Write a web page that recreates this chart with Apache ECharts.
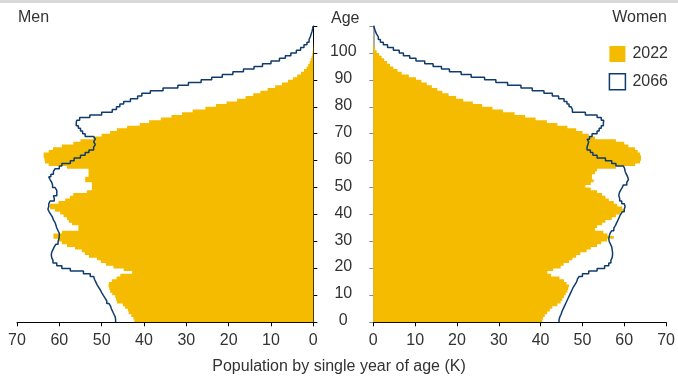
<!DOCTYPE html>
<html>
<head>
<meta charset="utf-8">
<script src="https://cdn.jsdelivr.net/npm/echarts@6/dist/echarts.min.js"></script>
<style>
html,body{margin:0;padding:0;background:#fff;}
#chart{width:678px;height:377px;}
</style>
</head>
<body>
<div id="chart"></div>
<script>
// Ages 0..109 (single years)
const ages = Array.from({length: 110}, (_, i) => String(i));
const ageTickLabels = ['0','10','20','30','40','50','60','70','80','90','100'];
const xTicks = [0,10,20,30,40,50,60,70];

// Men, population in thousands (2022 bars)
const men2022 = [
  42.3, 42.5, 43, 43.6, 43.8, 44.5, 45, 46.4, 46.6, 46.8,
  47.5, 48, 48.2, 48.4, 48.3, 47.6, 46.5, 45.6, 42.8, 44.8,
  47.2, 49, 50.2, 51.1, 53, 54, 54.7, 56.3, 58.2, 59.4,
  60.2, 61.4, 61.4, 59.4, 55.5, 55.5, 57, 57.8, 58.2, 59,
  59.8, 61, 62.2, 62.2, 60.2, 58.6, 57.5, 56.7, 53.5, 52.3,
  52.3, 52.3, 53.9, 53.9, 53.1, 53.1, 53.1, 58.2, 62.5, 63.4,
  63.5, 63.7, 63.7, 62.5, 61.5, 59.4, 56.7, 55, 52, 50,
  48, 46.4, 44, 41, 38.8, 36, 33.5, 31, 28.5, 25.5,
  23, 20.5, 18, 16, 14.2, 12.5, 10.8, 9, 7.4, 6,
  4.8, 3.8, 2.9, 2.2, 1.6, 1.2, 0.85, 0.6, 0.4, 0.25,
  0.15, 0.08, 0.04, 0.02, 0.01, 0, 0, 0, 0, 0
];
// Men 2066 projection (outline)
const men2066 = [
  46.7, 46.8, 47.1, 47.4, 47.7, 47.9, 48.3, 48.8, 49.2, 49.6,
  50, 50.3, 50.7, 51.1, 51.4, 51.7, 51.9, 52.7, 54.3, 57.4,
  59.4, 60.6, 61.5, 61.8, 61.9, 61.8, 61.5, 61.2, 60.8, 60.3,
  60.1, 60, 60, 60.3, 60.6, 60.8, 61, 61.4, 61.6, 62,
  62.4, 62.7, 62.5, 62.5, 62.2, 61.2, 61.4, 60.6, 60.6, 61,
  61.6, 61.8, 62.2, 62.5, 62, 61.4, 61, 60, 59.4, 57.4,
  56.5, 55, 53.9, 53, 51.9, 51.5, 51.9, 51.5, 51.9, 53.9,
  54.5, 55, 55.5, 56, 55.9, 55.2, 52.8, 50, 47.5, 46.5,
  45.7, 44.8, 43.2, 41.5, 40.5, 38.5, 35.5, 32, 29.5, 26.5,
  24, 21.5, 19, 16.5, 14, 12, 10, 8, 6.6, 5.3,
  4, 3, 2.2, 1.5, 1, 0.7, 0.5, 0.3, 0.15, 0.05
];
// Women 2022 bars
const women2022 = [
  40.4, 40.6, 41, 41.6, 42.2, 42.8, 44, 44.8, 45.2, 45.6,
  46, 46.4, 46.6, 46.8, 46.2, 45.6, 44.5, 42.5, 41.6, 43,
  44.8, 45.5, 46.8, 47.6, 48.5, 49.5, 51, 52, 53.5, 54.5,
  55.9, 57.5, 56, 55, 53, 53.5, 54.7, 55.5, 57, 58,
  59.1, 60, 59.5, 58.3, 57.5, 56.3, 55.5, 54.7, 53.5, 52,
  50.7, 52, 52.7, 52.3, 52.3, 53, 53.5, 58, 62.6, 63.8,
  64, 64, 63.8, 63.2, 62.6, 61, 60, 58, 53, 51.5,
  50, 48.5, 46.4, 44, 41.5, 38.8, 36.3, 33.8, 31, 28.5,
  26, 23.8, 21.5, 19.8, 18, 16.5, 15.3, 14, 12.8, 11.5,
  10.2, 8.5, 6.8, 5.8, 4.8, 4, 3.3, 2.6, 2, 1.4,
  0.8, 0.4, 0.2, 0.1, 0.05, 0, 0, 0, 0, 0
];
// Women 2066 projection (outline)
const women2066 = [
  44.4, 44.6, 44.9, 45.1, 45.4, 45.7, 46, 46.3, 46.6, 46.9,
  47.2, 47.5, 47.8, 48.2, 48.6, 48.8, 49.2, 50, 51.5, 53.5,
  55.3, 56.3, 56.8, 57.1, 57.2, 57.2, 57.1, 57, 56.7, 56.4,
  56.3, 56.4, 56.6, 57, 57.5, 57.9, 58.2, 58.5, 58.8, 59.1,
  59.5, 60, 60.2, 60, 59.4, 58.9, 58.7, 58.8, 59.1, 59.5,
  59.8, 60.6, 61, 60.8, 60.5, 60.2, 60.1, 59.8, 58, 57,
  55.5, 53.5, 52.5, 51.9, 51.1, 51.3, 51.5, 51.1, 51.7, 52.3,
  53.5, 54, 54.5, 55, 55.1, 54.5, 53.5, 50.7, 47.6, 47.3,
  46.8, 46.3, 45.6, 44.3, 42.8, 40.8, 38, 35.3, 32.1, 29.3,
  26.6, 23.4, 21, 18.2, 16.3, 14.3, 12.3, 10.2, 8.7, 7.2,
  6.2, 4.8, 3.4, 2.4, 1.7, 1.2, 0.8, 0.5, 0.3, 0.1
];

const seriesNames = ['2022', '2066'];
const titles = { men: 'Men', women: 'Women', age: 'Age', xName: 'Population by single year of age (K)' };

const FONT = "'Liberation Sans', Arial, sans-serif";
const FS = 16;
const YELLOW = '#f5bb00';
const NAVY = '#103c6c';
const TXT = '#333333';

// vertical step outline: each age a spans [a, a+1] on a value age axis
function stepOutline(vals) {
  const pts = [];
  vals.forEach((v, a) => { pts.push([v, a]); pts.push([v, a + 1]); });
  return pts;
}

const chart = echarts.init(document.getElementById('chart'), null, {renderer: 'canvas'});

const GRID_TOP = 26, GRID_H = 296.3;
const NO_SPLIT = { show: false };
const xAxisCommon = {
  type: 'value', min: 0, max: 70, interval: 10,
  axisLine: { show: true, lineStyle: { color: '#000', width: 1 } },
  axisTick: { show: true, length: 4, lineStyle: { color: '#000' } },
  axisLabel: { fontFamily: FONT, fontSize: FS, color: TXT, margin: 10 },
  splitLine: NO_SPLIT, splitArea: NO_SPLIT, minorSplitLine: NO_SPLIT
};
const tickIntervalFn = (idx) => idx % 10 === 0;
const hiddenAgeAxis = (gi) => ({
  type: 'value', gridIndex: gi, min: 0, max: 110, show: false,
  axisLine: { show: false }, axisTick: { show: false }, axisLabel: { show: false },
  splitLine: NO_SPLIT, splitArea: NO_SPLIT, minorSplitLine: NO_SPLIT
});
const barCommon = {
  type: 'bar', barCategoryGap: '0%', large: true, largeThreshold: 10,
  itemStyle: { color: YELLOW }, z: 1
};

chart.setOption({
  animation: false,
  backgroundColor: '#fff',
  grid: [
    { left: 17, top: GRID_TOP, width: 296.3, height: GRID_H },
    { left: 373.3, top: GRID_TOP, width: 294.4, height: GRID_H }
  ],
  legend: {
    orient: 'vertical', right: 5, top: 41,
    itemWidth: 16, itemHeight: 16, itemGap: 11,
    selectedMode: false,
    textStyle: { fontFamily: FONT, fontSize: FS, color: TXT, lineHeight: 16, padding: [0,0,0,2] },
    data: [
      { name: seriesNames[0], icon: 'rect', itemStyle: { color: YELLOW } },
      { name: seriesNames[1], icon: 'rect', itemStyle: { color: '#ffffff', borderColor: NAVY, borderWidth: 1.5 } }
    ]
  },
  xAxis: [
    Object.assign({}, xAxisCommon, { gridIndex: 0, inverse: true }),
    Object.assign({}, xAxisCommon, { gridIndex: 1 })
  ],
  yAxis: [
    { type: 'category', gridIndex: 0, position: 'right', data: ages, boundaryGap: true,
      axisLine: { show: true, lineStyle: { color: '#000', width: 1 } },
      axisTick: { show: true, length: 4, interval: tickIntervalFn, lineStyle: { color: '#000' } },
      axisLabel: { show: true, interval: (idx) => ageTickLabels.indexOf(String(idx)) >= 0,
        align: 'center', margin: 30, fontFamily: FONT, fontSize: FS, color: TXT },
      splitLine: NO_SPLIT, splitArea: NO_SPLIT },
    hiddenAgeAxis(0),
    { type: 'category', gridIndex: 1, position: 'left', data: ages, boundaryGap: true,
      axisLine: { show: true, lineStyle: { color: '#8c8c8c', width: 1.5 } },
      axisTick: { show: true, length: 4, interval: tickIntervalFn, lineStyle: { color: '#8c8c8c' } },
      axisLabel: { show: false },
      splitLine: NO_SPLIT, splitArea: NO_SPLIT },
    hiddenAgeAxis(1)
  ],
  series: [
    Object.assign({}, barCommon, { name: seriesNames[0], xAxisIndex: 0, yAxisIndex: 0, data: men2022 }),
    Object.assign({}, barCommon, { name: seriesNames[0], xAxisIndex: 1, yAxisIndex: 2, data: women2022 }),
    { name: seriesNames[1], type: 'line', xAxisIndex: 0, yAxisIndex: 1, data: stepOutline(men2066),
      symbol: 'none', lineStyle: { color: NAVY, width: 1.5 }, itemStyle: { color: NAVY }, z: 3 },
    { name: seriesNames[1], type: 'line', xAxisIndex: 1, yAxisIndex: 3, data: stepOutline(women2066),
      symbol: 'none', lineStyle: { color: NAVY, width: 1.5 }, itemStyle: { color: NAVY }, z: 3 }
  ],
  graphic: [
    { type: 'rect', left: 0, top: 0, shape: { width: 678, height: 3 }, style: { fill: '#d9d9d9' }, silent: true },
    { type: 'text', left: 18, top: 10, style: { text: titles.men, font: FS + 'px ' + FONT, fill: TXT } },
    { type: 'text', right: 11, top: 10, style: { text: titles.women, font: FS + 'px ' + FONT, fill: TXT } },
    { type: 'text', left: 331, top: 11, style: { text: titles.age, font: FS + 'px ' + FONT, fill: TXT } },
    { type: 'text', left: 'center', top: 359, style: { text: titles.xName, font: FS + 'px ' + FONT, fill: TXT } }
  ]
});
</script>
</body>
</html>
